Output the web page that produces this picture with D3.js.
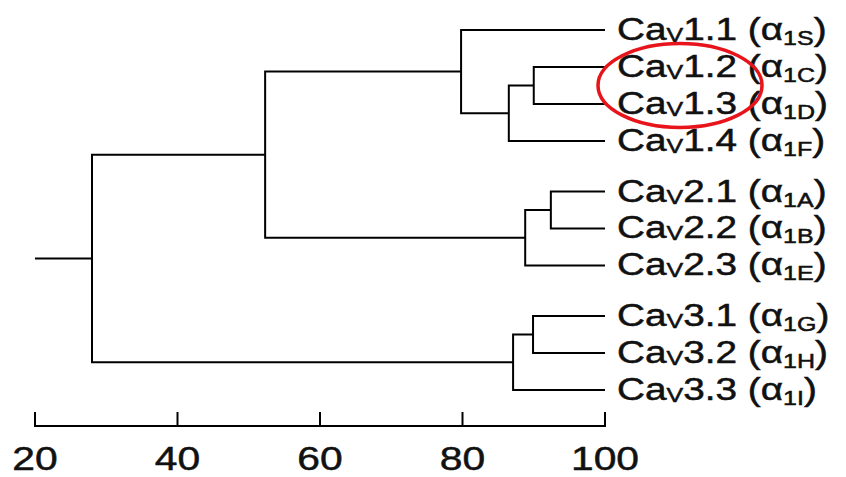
<!DOCTYPE html>
<meta charset="utf-8">
<style>
    body { margin: 0; background: #fff; }
    svg text { font-family: "Liberation Sans", Arial, Helvetica, sans-serif; fill: #111; stroke: #111; stroke-width: 0.5px; }
</style>
<script src="https://d3js.org/d3.v7.min.js"></script>
<div id="chart"></div>
<script>
    // leaves, top to bottom
    var leafFamily = ["1.1", "1.2", "1.3", "1.4", "2.1", "2.2", "2.3", "3.1", "3.2", "3.3"];
    var leafAlpha  = ["1S", "1C", "1D", "1F", "1A", "1B", "1E", "1G", "1H", "1I"];
    var leafGroup  = [0, 0, 0, 0, 1, 1, 1, 2, 2, 2];
    var leafValue  = 100;

    // merges: node 10+i joins childA and childB at similarity value
    var mergeA     = [1, 10, 0, 4, 13, 12, 7, 16, 15];
    var mergeB     = [2, 3, 11, 5, 6, 14, 8, 9, 17];
    var mergeValue = [90.0, 86.5, 79.8, 92.4, 88.8, 52.3, 89.9, 87.1, 28.0];

    var axisTicks  = [20, 40, 60, 80, 100];
    var highlighted = [1, 2]; // Cav1.2, Cav1.3

    var width = 846, height = 477;
    var groupGap = 0.37;

    var svg = d3.select("#chart").append("svg")
        .attr("width", width)
        .attr("height", height);

    var x = d3.scaleLinear().domain([20, 100]).range([35, 605]);
    var rowMax = leafFamily.length - 1 + groupGap * 2;
    var y = d3.scaleLinear().domain([0, rowMax]).range([30, 390]);

    // node positions
    var nodes = leafFamily.map(function (d, i) {
        return { x: x(leafValue), y: y(i + leafGroup[i] * groupGap) };
    });
    mergeValue.forEach(function (v, i) {
        var a = nodes[mergeA[i]], b = nodes[mergeB[i]];
        nodes.push({ x: x(v), y: (a.y + b.y) / 2, a: a, b: b });
    });

    var tree = svg.append("g")
        .attr("fill", "none")
        .attr("stroke", "#000")
        .attr("stroke-width", 2);

    // elbows
    tree.selectAll("path.link")
        .data(nodes.filter(function (d) { return d.a; }))
        .enter().append("path")
        .attr("class", "link")
        .attr("d", function (d) {
            return "M" + d.a.x + "," + d.a.y + "H" + d.x + "V" + d.b.y + "H" + d.b.x;
        });

    // root stem
    var root = nodes[nodes.length - 1];
    tree.append("path")
        .attr("d", "M" + x(20) + "," + root.y + "H" + root.x);

    // leaf labels
    var sx = 1.25, fs = 31;
    var labels = svg.selectAll("text.leaf")
        .data(leafFamily)
        .enter().append("text")
        .attr("class", "leaf")
        .attr("transform", function (d, i) {
            return "translate(617," + (nodes[i].y + 10) + ") scale(" + sx + ",1)";
        })
        .style("font-size", fs + "px");
    labels.append("tspan").text("Ca");
    labels.append("tspan").attr("dy", 2).style("font-size", "20px").text("V");
    labels.append("tspan").attr("dy", -2).text(function (d) { return d + " ("; });
    labels.append("tspan").text("\u03b1");
    labels.append("tspan").attr("dy", 5).style("font-size", "20px")
        .text(function (d, i) { return leafAlpha[i]; });
    labels.append("tspan").attr("dy", -5).text(")");

    // axis
    var axis = svg.append("g").attr("stroke", "#000").attr("stroke-width", 2).attr("fill", "none");
    axis.append("path").attr("d", "M" + x(20) + ",426H" + x(100));
    axis.selectAll("path.tick")
        .data(axisTicks)
        .enter().append("path")
        .attr("class", "tick")
        .attr("d", function (d) { return "M" + x(d) + ",427V412"; });

    svg.selectAll("text.tick")
        .data(axisTicks)
        .enter().append("text")
        .attr("class", "tick")
        .attr("text-anchor", "middle")
        .attr("transform", function (d) { return "translate(" + x(d) + ",470) scale(1.2,1)"; })
        .style("font-size", "34px")
        .text(function (d) { return d; });

    // red ellipse around highlighted leaves
    var hy = (nodes[highlighted[0]].y + nodes[highlighted[1]].y) / 2;
    svg.append("ellipse")
        .attr("cx", 680)
        .attr("cy", hy)
        .attr("rx", 82)
        .attr("ry", 42)
        .attr("fill", "none")
        .attr("stroke", "#e8141c")
        .attr("stroke-width", 3.5);
</script>
